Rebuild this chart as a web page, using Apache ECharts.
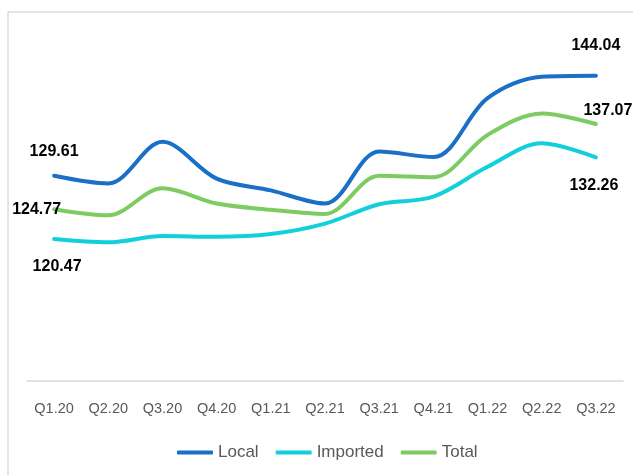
<!DOCTYPE html>
<html>
<head>
<meta charset="utf-8">
<script src="https://cdn.jsdelivr.net/npm/echarts@6/dist/echarts.min.js"></script>
<style>
  html, body { margin: 0; padding: 0; background: #ffffff; }
  #chart { width: 633px; height: 475px; }
</style>
</head>
<body>
<div id="chart"></div>
<script>
// Quarterly index values
const quarters = ['Q1.20', 'Q2.20', 'Q3.20', 'Q4.20', 'Q1.21', 'Q2.21', 'Q3.21', 'Q4.21', 'Q1.22', 'Q2.22', 'Q3.22'];
const localValues    = [129.61, 128.5, 134.5, 129.2, 127.5, 125.6, 133.1, 132.3, 140.8, 143.9, 144.04];
const importedValues = [120.47, 120.0, 120.9, 120.8, 121.2, 122.7, 125.5, 126.6, 130.9, 134.3, 132.26];
const totalValues    = [124.77, 123.9, 127.8, 125.6, 124.7, 124.1, 129.6, 129.4, 135.5, 138.6, 137.07];

const labelFont = {
  color: '#000000',
  fontWeight: 'bold',
  fontSize: 16,
  fontFamily: "'Liberation Sans', sans-serif",
  formatter: p => p.value.toFixed(2)
};

// Attach value labels to the first and last point of a series
function withEndLabels(values, firstLabel, lastLabel) {
  return values.map((v, i) => {
    if (i === 0) return { value: v, label: Object.assign({ show: true }, labelFont, firstLabel) };
    if (i === values.length - 1) return { value: v, label: Object.assign({ show: true }, labelFont, lastLabel) };
    return v;
  });
}

const lineSeries = (name, color, data) => ({
  name,
  type: 'line',
  smooth: 0.33,
  showSymbol: true,
  symbol: 'circle',
  symbolSize: 0.01,
  itemStyle: { color },
  lineStyle: { color, width: 4, cap: 'round' },
  emphasis: { disabled: true },
  data
});

const chart = echarts.init(document.getElementById('chart'), null, { renderer: 'canvas' });

chart.setOption({
  animation: false,
  backgroundColor: '#ffffff',
  graphic: [{
    type: 'rect',
    shape: { x: 8, y: 12, width: 700, height: 600 },
    style: { fill: 'none', stroke: '#dcdcdc', lineWidth: 1.5 },
    silent: true
  }],
  grid: { left: 27, right: 10, top: 34.4, bottom: 94 },
  xAxis: {
    type: 'category',
    data: quarters,
    boundaryGap: true,
    axisLine: { lineStyle: { color: '#d9d9d9', width: 1.5 } },
    axisTick: { show: false },
    axisLabel: {
      color: '#595959',
      fontSize: 14.5,
      margin: 20,
      interval: 0,
      fontFamily: "'Liberation Sans', sans-serif"
    }
  },
  yAxis: {
    type: 'value',
    min: 100,
    max: 150,
    show: false,
    splitLine: { show: false }
  },
  legend: {
    top: 439,
    left: 172,
    itemWidth: 36,
    itemHeight: 4,
    itemGap: 17,
    icon: 'roundRect',
    textStyle: {
      color: '#595959',
      fontSize: 17,
      fontFamily: "'Liberation Sans', sans-serif"
    },
    data: ['Local', 'Imported', 'Total']
  },
  series: [
    lineSeries('Local', '#1a6fc6', withEndLabels(localValues,
      { position: 'top', distance: 16 },
      { position: 'top', distance: 22 })),
    lineSeries('Imported', '#12cfdc', withEndLabels(importedValues,
      { position: 'bottom', distance: 19, offset: [3, 0] },
      { position: 'bottom', distance: 20, offset: [-2, 0] })),
    lineSeries('Total', '#7dcc63', withEndLabels(totalValues,
      { position: 'left', distance: 5, offset: [12, 0] },
      { position: 'top', distance: 5, offset: [12, 0] }))
  ]
});
</script>
</body>
</html>
